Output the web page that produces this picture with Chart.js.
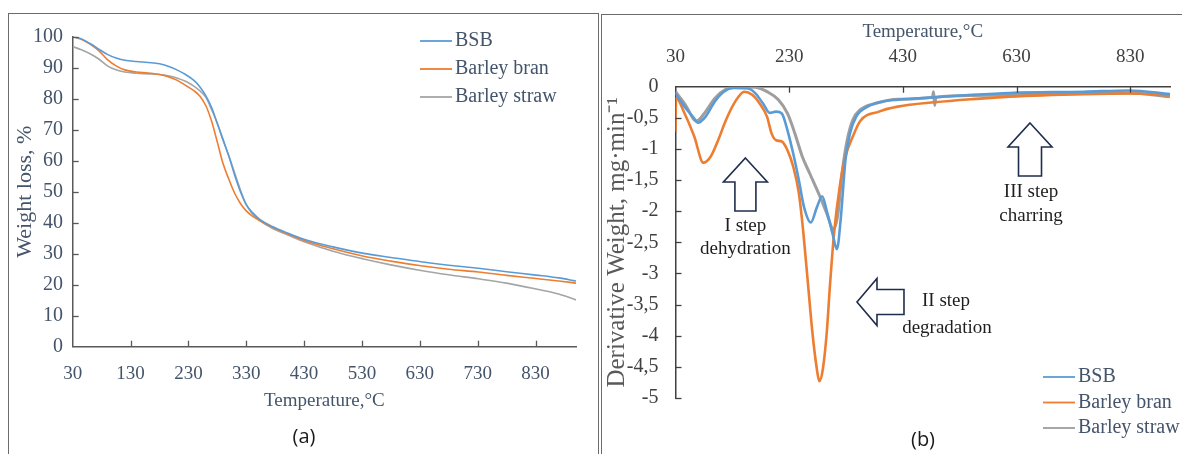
<!DOCTYPE html>
<html><head><meta charset="utf-8">
<script src="https://cdn.jsdelivr.net/npm/chart.js@4.4.1/dist/chart.umd.min.js"></script>
<style>
html,body{margin:0;padding:0;background:#fff;}
body{width:1182px;height:454px;position:relative;overflow:hidden;}
canvas{position:absolute;top:0;}
#ca{left:0;} #cb{left:600px;}
.frameA{position:absolute;left:8px;top:13px;width:589px;height:470px;border:1.5px solid #6b6b6b;}
.frameB{position:absolute;left:601px;top:14px;width:600px;height:470px;border-left:1.5px solid #6b6b6b;border-top:1.5px solid #6b6b6b;}
</style></head>
<body>
<div class="frameA"></div><div class="frameB"></div>
<canvas id="ca" width="600" height="454"></canvas>
<canvas id="cb" width="582" height="454"></canvas>
<script>
// ---------- DATA ----------
const seriesNames = ['BSB', 'Barley bran', 'Barley straw'];

// (a) TGA: weight loss, %
const tgaTempBSB = [30,45,60,75,90,105,120,140,160,180,195,210,225,240,250,260,270,280,290,300,310,320,330,340,354,375,400,434,480,533,580,632,680,731,780,831,870,900];
const tgaBSB     = [100,99.3,97.8,96,94.3,93.1,92.4,92,91.7,91.3,90.5,89.3,87.8,85.8,83.8,81,77.2,72,66.8,61.4,55.3,50,45.8,43.4,41,38.8,36.8,34.4,32.2,30.1,28.8,27.4,26.3,25.3,24.2,23.1,22.2,21.2];
const tgaTempBran = [30,45,60,75,90,105,120,140,160,180,195,210,225,240,250,260,270,280,290,300,310,320,330,340,354,375,400,434,480,533,580,632,680,731,780,831,870,900];
const tgaBran     = [100,99.2,97.6,95.5,92.6,90.6,89.3,88.6,88.3,87.8,87.1,86,84.3,82.5,80.8,77.8,72.8,66,59,54,49.5,46.2,43.8,42.2,40.6,38.5,36.5,34,31.6,29.2,27.6,26.1,25,24.1,23,22,21.2,20.5];
const tgaTempStraw = [30,45,60,75,90,105,120,140,160,180,195,210,225,240,250,260,270,280,290,300,310,320,330,340,354,375,400,434,480,533,580,632,680,731,780,831,870,900];
const tgaStraw     = [96.8,95.8,94.5,92.8,90.6,89.3,88.6,88.2,88,87.8,87.4,86.7,85.6,84,82.5,80.5,76.5,72,66.5,61.5,56,50.5,45.8,43,40.6,38.2,36.2,33.6,30.8,28.3,26.4,24.6,23.2,21.9,20.5,18.6,17,15.1];
const tgaXTicks = [30,130,230,330,430,530,630,730,830];

// (b) DTG: derivative weight, mg/min
const dtgTempBSB = [30,46,63,69,83,99,115,132,158,171,184,196,207,217,227,237,247,256,268,279,288,297,306,314,321,329,337,348,368,394,421,486,552,618,749,828,900];
const dtgBSB     = [-0.11,-0.32,-0.51,-0.58,-0.48,-0.24,-0.08,-0.02,-0.03,-0.11,-0.27,-0.42,-0.40,-0.43,-0.70,-1.07,-1.50,-1.93,-2.18,-1.93,-1.76,-2.03,-2.35,-2.61,-2.09,-1.18,-0.75,-0.48,-0.32,-0.24,-0.21,-0.17,-0.13,-0.10,-0.08,-0.06,-0.12];
const dtgTempBran = [30,31,46,63,79,92,105,119,135,151,165,178,191,199,207,217,227,237,247,255,263,271,278,283,289,296,302,309,319,329,342,355,388,421,486,552,618,749,828,900];
const dtgBran     = [-0.72,-0.18,-0.43,-0.80,-1.22,-1.12,-0.86,-0.53,-0.24,-0.08,-0.13,-0.27,-0.48,-0.75,-0.86,-0.88,-1.02,-1.28,-1.71,-2.35,-3.16,-3.96,-4.49,-4.73,-4.55,-3.96,-3.16,-2.35,-1.60,-1.12,-0.80,-0.55,-0.40,-0.32,-0.25,-0.20,-0.16,-0.12,-0.11,-0.14];
const dtgTempStraw = [30,46,67,83,99,119,138,171,191,211,227,240,253,266,283,296,308,316,323,332,342,355,381,421,482,484,486,488,552,618,749,828,900];
const dtgStraw     = [-0.08,-0.27,-0.55,-0.40,-0.19,-0.04,0,-0.01,-0.08,-0.21,-0.43,-0.75,-1.12,-1.39,-1.74,-2.03,-2.29,-2.03,-1.39,-0.86,-0.53,-0.37,-0.27,-0.20,-0.17,-0.08,-0.30,-0.17,-0.14,-0.13,-0.11,-0.10,-0.16];
const dtgXTicks = [30,230,430,630,830];

// ---------- HELPERS ----------
const zip = (xs, ys) => xs.map((x, i) => ({x, y: ys[i]}));
const colors = ['#5B9BD5', '#ED7D31', '#A5A5A5'];
const SERIF = 'Liberation Serif';
Chart.defaults.font.family = SERIF;

const innerTicks = {
  id: 'innerTicks',
  afterDraw(chart, args, o) {
    const ctx = chart.ctx, ca = chart.chartArea, xs = chart.scales.x, ys = chart.scales.y;
    ctx.save(); ctx.strokeStyle = o.color; ctx.lineWidth = 1.3;
    const yAx = o.xTop ? ca.top : ca.bottom, dir = o.xTop ? 1 : -1;
    xs.ticks.forEach(t => {
      if (t.value === xs.min) return;
      const px = Math.round(xs.getPixelForValue(t.value)) + 0.5;
      ctx.beginPath(); ctx.moveTo(px, yAx); ctx.lineTo(px, yAx + dir * o.len); ctx.stroke();
    });
    ys.ticks.forEach(t => {
      if (t.value === (o.xTop ? ys.max : ys.min)) return;
      const py = Math.round(ys.getPixelForValue(t.value)) + 0.5;
      ctx.beginPath(); ctx.moveTo(ca.left, py); ctx.lineTo(ca.left + o.len, py); ctx.stroke();
    });
    ctx.restore();
  }
};

const customLegend = {
  id: 'customLegend',
  afterDraw(chart, args, o) {
    const ctx = chart.ctx;
    ctx.save();
    ctx.font = o.size + 'px "' + SERIF + '"';
    ctx.textBaseline = 'middle'; ctx.textAlign = 'left';
    chart.data.datasets.forEach((ds, i) => {
      const y = o.y + i * o.dy;
      ctx.strokeStyle = ds.borderColor; ctx.lineWidth = o.lw;
      ctx.beginPath(); ctx.moveTo(o.x, y); ctx.lineTo(o.x + o.len, y); ctx.stroke();
      ctx.fillStyle = o.color;
      ctx.fillText(ds.label, o.x + o.len + 3, y);
    });
    ctx.restore();
  }
};

const panelLabel = {
  id: 'panelLabel',
  afterDraw(chart, args, o) {
    const ctx = chart.ctx;
    ctx.save();
    ctx.font = '20px "Open Sans"'; ctx.fillStyle = '#1a1a1a';
    ctx.textAlign = 'center'; ctx.textBaseline = 'middle';
    ctx.fillText(o.text, o.x, o.y);
    ctx.restore();
  }
};

const stepNotes = {
  id: 'stepNotes',
  afterDraw(chart, args, o) {
    const ctx = chart.ctx, xs = chart.scales.x, ys = chart.scales.y;
    ctx.save();
    (o.items || []).forEach(a => {
      const x = xs.getPixelForValue(a.t), y = ys.getPixelForValue(a.d);
      const {hw, hl, sw, L} = a;
      let pts;
      if (a.dir === 'up') {
        pts = [[x,y],[x+hw,y+hl],[x+sw,y+hl],[x+sw,y+L],[x-sw,y+L],[x-sw,y+hl],[x-hw,y+hl]];
      } else {
        pts = [[x,y],[x+hl,y-hw],[x+hl,y-sw],[x+L,y-sw],[x+L,y+sw],[x+hl,y+sw],[x+hl,y+hw]];
      }
      ctx.beginPath();
      pts.forEach((p, i) => i ? ctx.lineTo(p[0], p[1]) : ctx.moveTo(p[0], p[1]));
      ctx.closePath();
      ctx.fillStyle = '#fff'; ctx.fill();
      ctx.strokeStyle = '#1F2D4D'; ctx.lineWidth = 1.6; ctx.lineJoin = 'miter'; ctx.stroke();
      ctx.fillStyle = '#1e1e1e';
      ctx.font = '19px "' + SERIF + '"';
      ctx.textAlign = 'center'; ctx.textBaseline = 'middle';
      a.lines.forEach((ln, i) => ctx.fillText(ln, x + a.tx[i], y + a.ty[i]));
    });
    ctx.restore();
  }
};

function ds(label, xs, ys, color, w) {
  return {label, data: zip(xs, ys), borderColor: color, backgroundColor: color,
    borderWidth: w, pointRadius: 0, fill: false, cubicInterpolationMode: 'monotone'};
}

// ---------- CHART (a) ----------
const textA = '#44546A';
new Chart(document.getElementById('ca'), {
  type: 'line',
  data: {datasets: [
    ds(seriesNames[0], tgaTempBSB, tgaBSB, colors[0], 1.6),
    ds(seriesNames[1], tgaTempBran, tgaBran, colors[1], 1.6),
    ds(seriesNames[2], tgaTempStraw, tgaStraw, colors[2], 1.6)
  ]},
  options: {
    responsive: false, animation: false, devicePixelRatio: 1,
    layout: {padding: {left: 12, right: 24, top: 36.7, bottom: 42}},
    plugins: {
      legend: {display: false}, tooltip: {enabled: false},
      innerTicks: {color: '#595959', len: 6, xTop: false},
      customLegend: {x: 420, y: 41, dy: 28, len: 32, lw: 1.8, size: 20, color: textA},
      panelLabel: {text: '(a)', x: 304, y: 437}
    },
    scales: {
      x: {type: 'linear', min: 30, max: 900,
        afterBuildTicks: s => { s.ticks = tgaXTicks.map(v => ({value: v})); },
        afterFit: s => { s.height = 65.3; },
        grid: {display: false, drawTicks: false},
        border: {display: true, color: '#595959', width: 1.5},
        ticks: {padding: 16, maxRotation: 0, autoSkip: false, color: textA, font: {size: 19}},
        title: {display: true, text: 'Temperature,°C', color: textA, font: {size: 19}, padding: 0}
      },
      y: {min: 0, max: 100,
        ticks: {stepSize: 10, padding: 9.7, color: textA, font: {size: 20}},
        afterFit: s => { s.width = 60.7; },
        grid: {display: false, drawTicks: false},
        border: {display: true, color: '#595959', width: 1.5},
        title: {display: true, text: 'Weight loss, %', color: textA, font: {size: 22}, padding: 0}
      }
    }
  },
  plugins: [innerTicks, customLegend, panelLabel]
});

// ---------- CHART (b) ----------
const textB = '#404040';
new Chart(document.getElementById('cb'), {
  type: 'line',
  data: {datasets: [
    ds(seriesNames[0], dtgTempBSB, dtgBSB, colors[0], 2.6),
    ds(seriesNames[1], dtgTempBran, dtgBran, colors[1], 2.6),
    ds(seriesNames[2], dtgTempStraw, dtgStraw, '#9E9E9E', 3)
  ]},
  options: {
    responsive: false, animation: false, devicePixelRatio: 1,
    layout: {padding: {left: 2, right: 12, top: 21, bottom: 56}},
    plugins: {
      legend: {display: false}, tooltip: {enabled: false},
      innerTicks: {color: '#404040', len: 6, xTop: true},
      customLegend: {x: 443, y: 377, dy: 25.5, len: 32, lw: 1.8, size: 20, color: textA},
      panelLabel: {text: '(b)', x: 323, y: 440},
      stepNotes: {items: [
        {t: 153, d: -1.145, dir: 'up', hw: 22, hl: 24, sw: 10.5, L: 53, lines: ['I step', 'dehydration'], tx: [0, 0], ty: [68, 91]},
        {t: 349.3, d: -3.458, dir: 'left', hw: 23.5, hl: 20, sw: 12.5, L: 47, lines: ['II step', 'degradation'], tx: [89, 90], ty: [-1, 26]},
        {t: 653.7, d: -0.583, dir: 'up', hw: 22, hl: 24, sw: 11.5, L: 53, lines: ['III step', 'charring'], tx: [1, 1], ty: [69, 93]}
      ]}
    },
    scales: {
      x: {type: 'linear', position: 'top', min: 30, max: 900,
        afterBuildTicks: s => { s.ticks = dtgXTicks.map(v => ({value: v})); },
        afterFit: s => { s.height = 65.7; },
        grid: {display: false, drawTicks: false},
        border: {display: true, color: '#404040', width: 1.5},
        ticks: {padding: 18, maxRotation: 0, autoSkip: false, color: textB, font: {size: 19}},
        title: {display: true, text: 'Temperature,°C', color: textA, font: {size: 19}, padding: 0}
      },
      y: {min: -5, max: 0,
        ticks: {stepSize: 0.5, padding: 17, color: textB, font: {size: 20},
          callback: v => String(Math.round(v * 10) / 10).replace('.', ',')},
        afterFit: s => { s.width = 73.5; },
        grid: {display: false, drawTicks: false},
        border: {display: true, color: '#404040', width: 1.5},
        title: {display: true, text: 'Derivative Weight, mg·min⁻¹', color: '#595959', font: {size: 25}, padding: 0}
      }
    }
  },
  plugins: [innerTicks, customLegend, panelLabel, stepNotes]
});
</script>
</body></html>
